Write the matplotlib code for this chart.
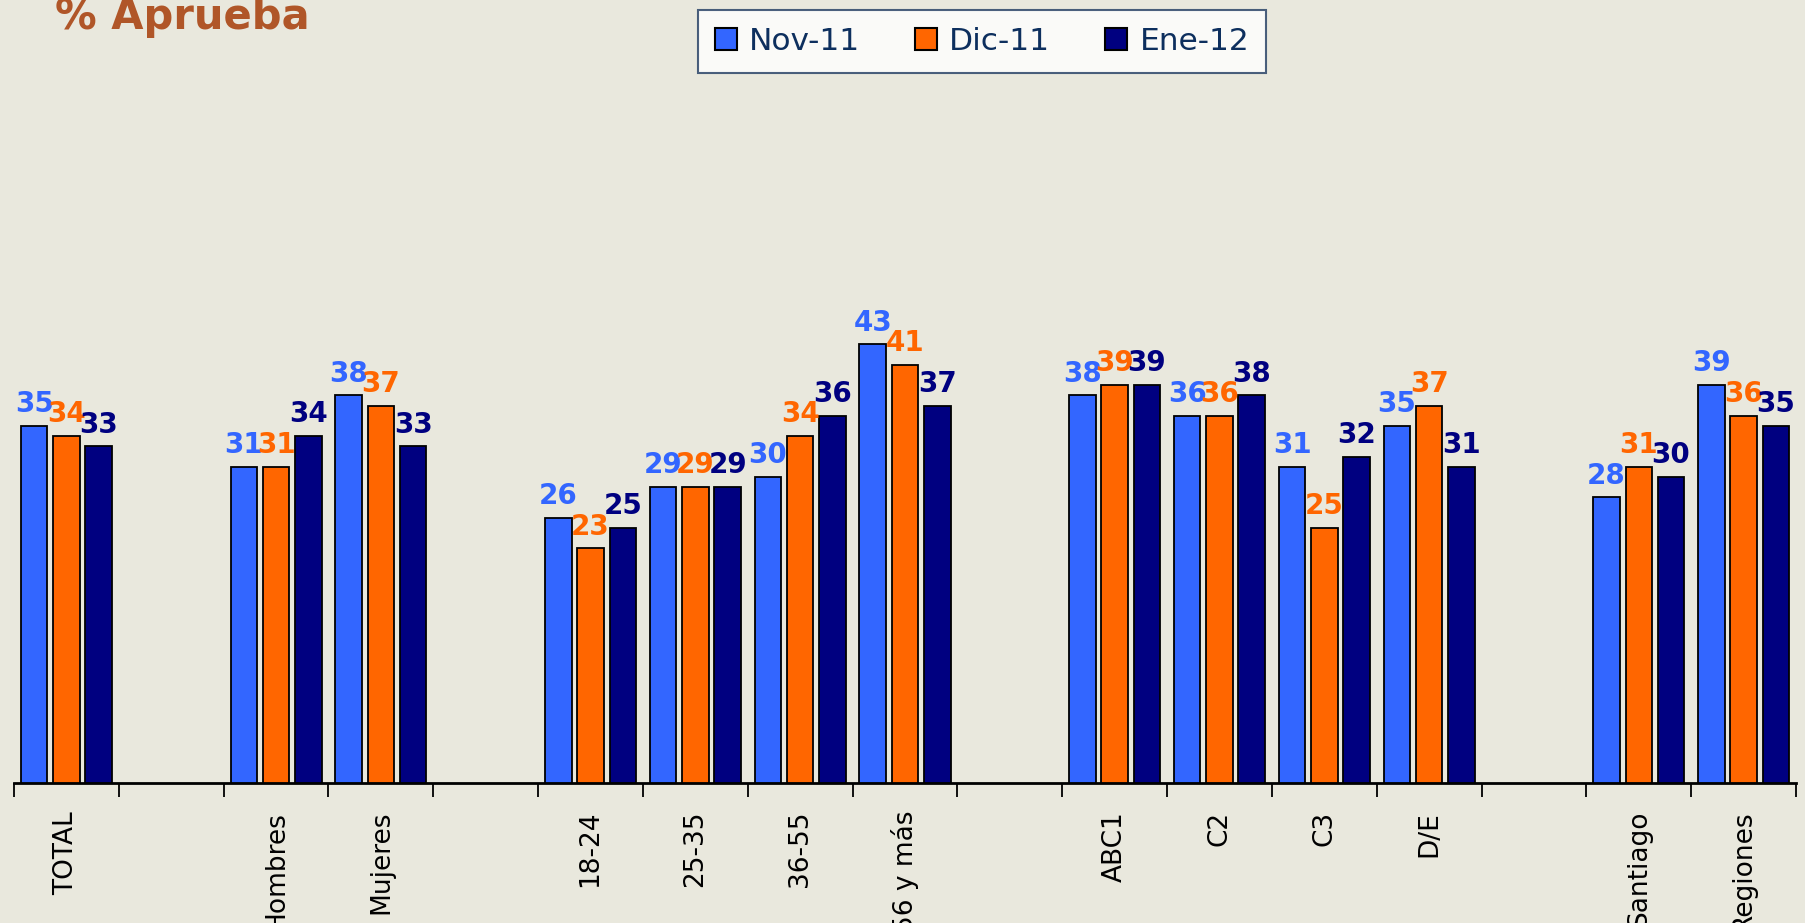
import matplotlib
matplotlib.use("Agg")
import matplotlib.pyplot as plt
from matplotlib.patches import Patch
import numpy as np

categories = ["TOTAL", "", "Hombres", "Mujeres", "", "18-24", "25-35", "36-55", "56 y más",
              "", "ABC1", "C2", "C3", "D/E", "", "Santiago", "Regiones"]
series_names = ["Nov-11", "Dic-11", "Ene-12"]
nov11 = [35, None, 31, 38, None, 26, 29, 30, 43, None, 38, 36, 31, 35, None, 28, 39]
dic11 = [34, None, 31, 37, None, 23, 29, 34, 41, None, 39, 36, 25, 37, None, 31, 36]
ene12 = [33, None, 34, 33, None, 25, 29, 36, 37, None, 39, 38, 32, 31, None, 30, 35]
series = [nov11, dic11, ene12]
colors = ["#3366FF", "#FF6600", "#000080"]
bg = "#E9E8DD"

fig = plt.figure(figsize=(18.05, 9.23), dpi=100, facecolor=bg)
ax = fig.add_axes([14/1805, 140/923, (1796-14)/1805, 612/923])
ax.set_facecolor(bg)

x = np.arange(len(categories))
step = 0.308
width = 0.253
for i, (vals, col) in enumerate(zip(series, colors)):
    xs = [xi + (i - 1) * step for xi, v in zip(x, vals) if v is not None]
    vs = [v for v in vals if v is not None]
    ax.bar(xs, vs, width=width, color=col, edgecolor="black", linewidth=1.3, zorder=3)
    for xx, vv in zip(xs, vs):
        ax.annotate(str(vv), (xx, vv), xytext=(0, 10), textcoords="offset points",
                    ha="center", va="baseline", fontsize=20, fontweight="bold",
                    color=col, zorder=4)

ax.set_xlim(-0.5, len(categories) - 0.5)
ax.set_ylim(0, 60)
for s in ["top", "right", "left"]:
    ax.spines[s].set_visible(False)
ax.spines["bottom"].set_linewidth(2)
ax.spines["bottom"].set_color("black")
ax.set_yticks([])
ax.set_xticks(x)
ax.set_xticklabels(categories, rotation=90, fontsize=19, color="black", va="top", ha="center")
ax.tick_params(axis="x", which="major", length=0, pad=20)
ax.set_xticks(np.arange(-0.5, len(categories)), minor=True)
ax.tick_params(axis="x", which="minor", length=10, width=1.3, direction="out", color="black")

fig.text(55/1805, 1 - 29/923, "% Aprueba", fontsize=30, fontweight="bold",
         color="#B05628", ha="left", va="baseline")

handles = [Patch(facecolor=c, edgecolor="black", linewidth=1.5) for c in colors]
leg = fig.legend(handles, series_names, loc="center", bbox_to_anchor=(982/1805, 1 - 41.5/923),
                 ncol=3, fontsize=22.5, frameon=True, fancybox=False, handlelength=0.7,
                 handleheight=0.7, handletextpad=0.4, columnspacing=1.75, borderpad=0.55)
leg.get_frame().set_edgecolor("#1F3A60")
leg.get_frame().set_linewidth(1.5)
leg.get_frame().set_facecolor("white")
for t in leg.get_texts():
    t.set_color("#0D2F5E")

fig.savefig("out.png", dpi=100, facecolor=bg)
